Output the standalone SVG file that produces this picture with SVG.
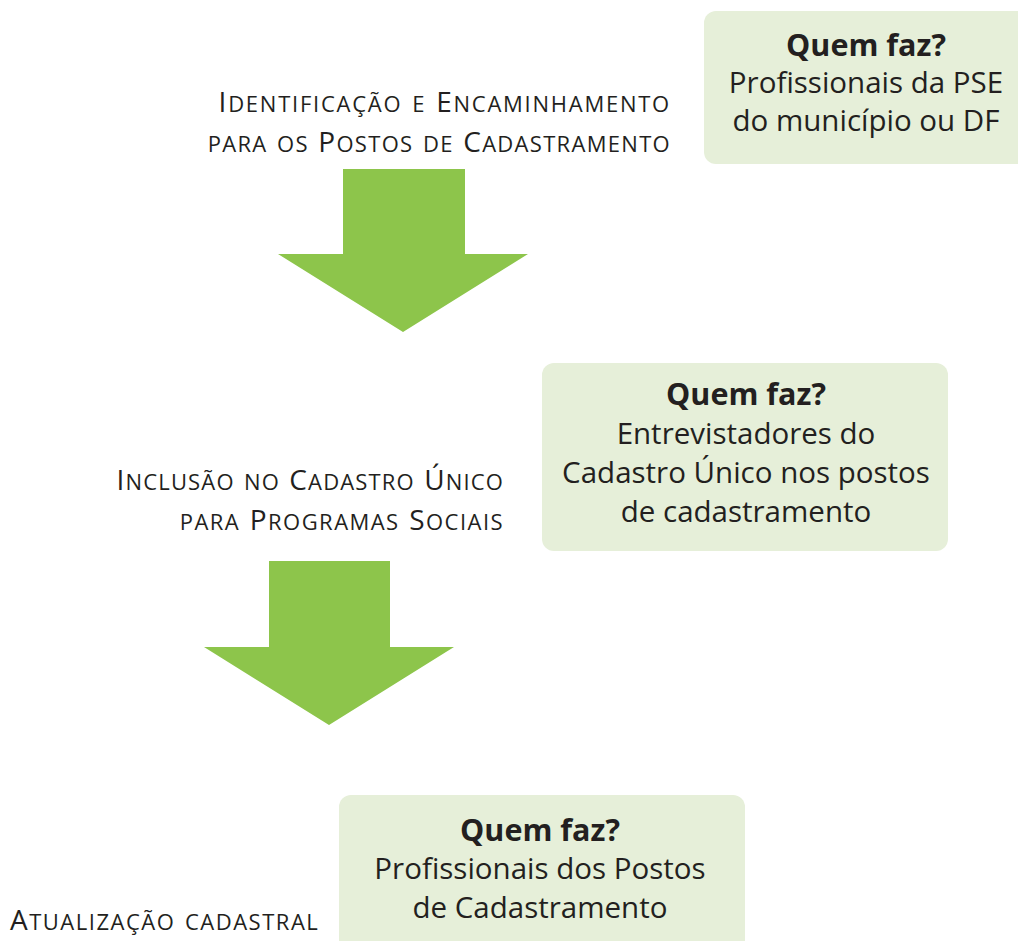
<svg xmlns="http://www.w3.org/2000/svg" width="1018" height="941" viewBox="0 0 1018 941">
<style>
.box{fill:#e6efd9}
.arrow{fill:#8dc54b}
.h{font-family:"Open Sans","Noto Sans",sans-serif;font-weight:bold;font-size:30.5px;fill:#231f20;text-anchor:middle}
.t{font-family:"Open Sans","Noto Sans",sans-serif;font-size:29.5px;fill:#231f20;text-anchor:middle}
.sc{font-family:"Open Sans","Noto Sans",sans-serif;font-size:31.5px;fill:#231f20;font-variant:small-caps;letter-spacing:1.4px}
.c{font-size:28px}
</style>
<rect width="1018" height="941" fill="#ffffff"/>
<g id="connectors">
<polygon class="arrow" points="343,169 465,169 465,254 528,254 403,332 278,254 343,254"/>
<polygon class="arrow" points="269,561 390,561 390,647 454,647 329,725 204,647 269,647"/>
</g>
<g id="label1">
<text class="sc" x="671" y="112" text-anchor="end" style="letter-spacing:1.75px"><tspan class="c">I</tspan>dentificação e <tspan class="c">E</tspan>ncaminhamento</text>
<text class="sc" x="671" y="152" text-anchor="end" style="letter-spacing:1.3px">para os <tspan class="c">P</tspan>ostos de <tspan class="c">C</tspan>adastramento</text>
</g>
<g id="box1">
<rect class="box" x="704" y="11" width="330" height="153" rx="12"/>
<text class="h" x="866" y="56">Quem faz?</text>
<text class="t" x="866" y="93">Profissionais da PSE</text>
<text class="t" x="866" y="131">do município ou DF</text>
</g>
<g id="label2">
<text class="sc" x="504" y="490" text-anchor="end" style="letter-spacing:1.15px"><tspan class="c">I</tspan>nclusão no <tspan class="c">C</tspan>adastro <tspan class="c">Ú</tspan>nico</text>
<text class="sc" x="504" y="530" text-anchor="end" style="letter-spacing:1.45px">para <tspan class="c">P</tspan>rogramas <tspan class="c">S</tspan>ociais</text>
</g>
<g id="box2">
<rect class="box" x="542" y="363" width="406" height="188" rx="12"/>
<text class="h" x="746" y="405">Quem faz?</text>
<text class="t" x="746" y="444">Entrevistadores do</text>
<text class="t" x="746" y="483">Cadastro Único nos postos</text>
<text class="t" x="746" y="522">de cadastramento</text>
</g>
<g id="label3">
<text class="sc" x="10" y="930" style="letter-spacing:1.5px"><tspan class="c">A</tspan>tualização cadastral</text>
</g>
<g id="box3">
<rect class="box" x="339" y="795" width="406" height="170" rx="12"/>
<text class="h" x="540" y="841">Quem faz?</text>
<text class="t" x="540" y="879">Profissionais dos Postos</text>
<text class="t" x="540" y="918">de Cadastramento</text>
</g>
</svg>
